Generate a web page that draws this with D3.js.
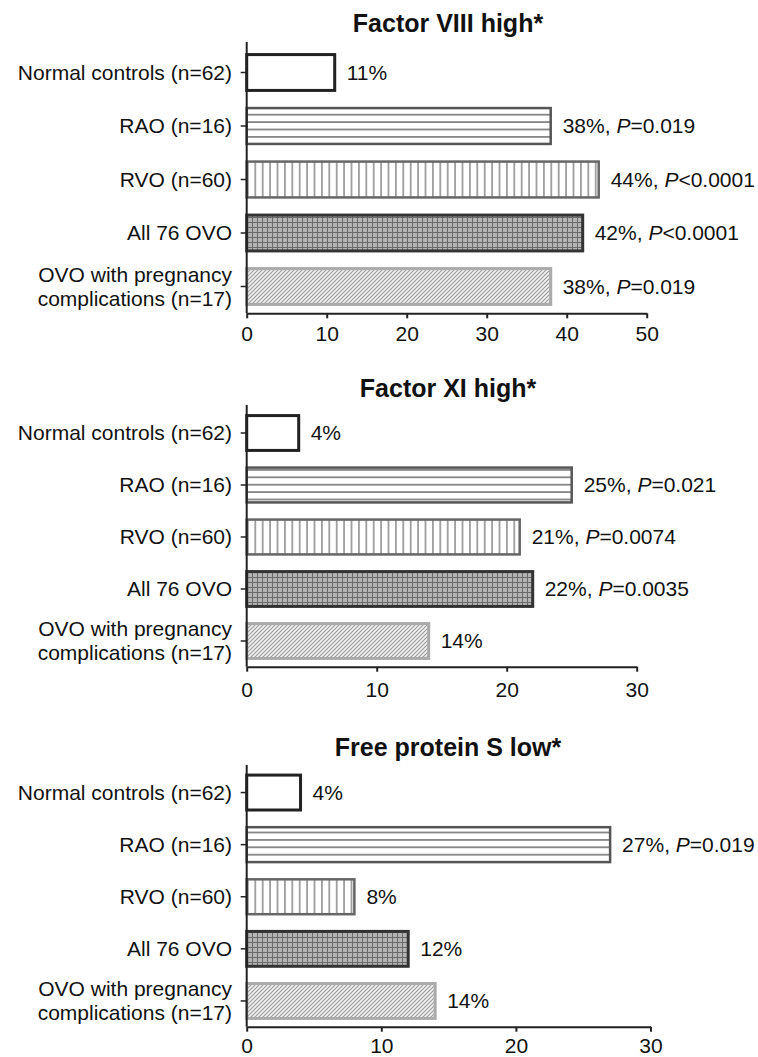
<!DOCTYPE html>
<html>
<head>
<meta charset="utf-8">
<script src="https://cdn.jsdelivr.net/npm/d3@7"></script>
<style>
  html, body { margin: 0; padding: 0; background: #fff; }
  svg { display: block; font-family: "Liberation Sans", Arial, sans-serif; }
</style>
</head>
<body>
<svg id="chart" width="758" height="1057"></svg>
<script>
// ---- data ----
const categories = ["Normal controls (n=62)", "RAO (n=16)", "RVO (n=60)", "All 76 OVO", "OVO with pregnancy complications (n=17)"];
const categoryLines = [["Normal controls (n=62)"], ["RAO (n=16)"], ["RVO (n=60)"], ["All 76 OVO"], ["OVO with pregnancy", "complications (n=17)"]];

const titles = ["Factor VIII high*", "Factor XI high*", "Free protein S low*"];
const factorVIII = [11, 38, 44, 42, 38];
const factorVIIIp = ["", "=0.019", "<0.0001", "<0.0001", "=0.019"];
const factorXI = [4, 25, 21, 22, 14];
const factorXIp = ["", "=0.021", "=0.0074", "=0.0035", ""];
const proteinS = [4, 27, 8, 12, 14];
const proteinSp = ["", "=0.019", "", "", ""];

const xMaxes = [50, 30, 30];
const xTicks = [[0, 10, 20, 30, 40, 50], [0, 10, 20, 30], [0, 10, 20, 30]];

// ---- layout ----
const svg = d3.select("#chart");
const defs = svg.append("defs");

function pat(id, w, h, bg, draw) {
  const p = defs.append("pattern").attr("id", id).attr("patternUnits", "userSpaceOnUse")
    .attr("width", w).attr("height", h);
  p.append("rect").attr("width", w).attr("height", h).attr("fill", bg);
  draw(p);
}
pat("hlines", 10, 7.4, "#fff", p => p.append("line").attr("x1", 0).attr("x2", 10).attr("y1", 3.7).attr("y2", 3.7).attr("stroke", "#555").attr("stroke-width", 1.3));
pat("vlines", 7.4, 10, "#fff", p => p.append("line").attr("x1", 3.7).attr("x2", 3.7).attr("y1", 0).attr("y2", 10).attr("stroke", "#777").attr("stroke-width", 1.3));
pat("grid", 5, 5, "#b4b4b4", p => {
  p.append("line").attr("x1", 2.5).attr("x2", 2.5).attr("y1", 0).attr("y2", 5).attr("stroke", "#6a6a6a").attr("stroke-width", 1);
  p.append("line").attr("x1", 0).attr("x2", 5).attr("y1", 2.5).attr("y2", 2.5).attr("stroke", "#6a6a6a").attr("stroke-width", 1);
});
pat("diag", 4, 4, "#f2f2f2", p => p.append("path").attr("d", "M-1,1 L1,-1 M0,4 L4,0 M3,5 L5,3").attr("stroke", "#999").attr("stroke-width", 1.1));

const fills = ["#fff", "url(#hlines)", "url(#vlines)", "url(#grid)", "url(#diag)"];
const strokes = ["#222", "#555", "#666", "#333", "#aaa"];
const strokeW = [3, 2.5, 2.5, 3, 3];

const panels = [
  { values: factorVIII, p: factorVIIIp, titleY: 32, yRange: [45.75, 313.25], axisTop: 42, axisY: 313.3, xRange: [246.7, 646.7], tickLabelY: 341.5 },
  { values: factorXI, p: factorXIp, titleY: 397, yRange: [407, 667], axisTop: 405, axisY: 666.7, xRange: [246.7, 636.7], tickLabelY: 697 },
  { values: proteinS, p: proteinSp, titleY: 756, yRange: [766.5, 1027], axisTop: 765, axisY: 1026.7, xRange: [246.7, 650.5], tickLabelY: 1053 }
];

panels.forEach((pn, i) => {
  const g = svg.append("g");
  const x = d3.scaleLinear().domain([0, xMaxes[i]]).range(pn.xRange);
  const y = d3.scaleBand().domain(categories).range(pn.yRange).paddingInner(0.33).paddingOuter(0.165);

  g.append("text").attr("x", 448).attr("y", pn.titleY).attr("text-anchor", "middle")
    .attr("font-size", 25).attr("font-weight", "bold").attr("fill", "#111").text(titles[i]);

  // bars
  g.selectAll("rect.bar").data(pn.values).join("rect").attr("class", "bar")
    .attr("x", x(0))
    .attr("y", (d, j) => y(categories[j]))
    .attr("width", d => x(d) - x(0))
    .attr("height", y.bandwidth())
    .attr("fill", (d, j) => fills[j])
    .attr("stroke", (d, j) => strokes[j])
    .attr("stroke-width", (d, j) => strokeW[j]);

  // value labels
  const vl = g.selectAll("text.val").data(pn.values).join("text").attr("class", "val")
    .attr("x", d => x(d) + 12)
    .attr("y", (d, j) => y(categories[j]) + y.bandwidth() / 2)
    .attr("dy", "0.35em").attr("font-size", 21).attr("fill", "#111");
  vl.each(function (d, j) {
    const t = d3.select(this);
    t.append("tspan").text(d + "%" + (pn.p[j] ? ", " : ""));
    if (pn.p[j]) {
      t.append("tspan").attr("font-style", "italic").text("P");
      t.append("tspan").text(pn.p[j]);
    }
  });

  // x axis
  const xa = g.append("g").attr("transform", `translate(0,${pn.axisY})`)
    .call(d3.axisBottom(x).tickValues(xTicks[i]).tickSize(5).tickSizeOuter(0).tickFormat(d3.format("d")));
  xa.select(".domain").attr("stroke", "#222").attr("stroke-width", 2);
  xa.selectAll(".tick line").attr("stroke", "#222").attr("stroke-width", 2);
  xa.selectAll(".tick text").attr("font-size", 21).attr("fill", "#111")
    .attr("font-family", "Liberation Sans, Arial, sans-serif").attr("y", pn.tickLabelY - pn.axisY).attr("dy", 0);

  // y axis
  const ya = g.append("g").attr("transform", `translate(${x(0)},0)`)
    .call(d3.axisLeft(y).tickSize(6).tickSizeOuter(0).tickFormat(""));
  ya.select(".domain").attr("stroke", "#222").attr("stroke-width", 2)
    .attr("d", `M0,${pn.axisTop}V${pn.axisY}`);
  ya.selectAll(".tick line").attr("stroke", "#222").attr("stroke-width", 1.5);

  // category labels
  g.selectAll("text.cat").data(categories).join("text").attr("class", "cat")
    .attr("x", 232).attr("text-anchor", "end").attr("font-size", 21).attr("fill", "#111")
    .attr("y", c => y(c) + y.bandwidth() / 2)
    .each(function (c, j) {
      const lines = categoryLines[j];
      const t = d3.select(this);
      lines.forEach((ln, k) => {
        t.append("tspan").attr("x", 232)
          .attr("dy", k === 0 ? (0.35 * 21 - (lines.length - 1) * 12) + "px" : "24px")
          .text(ln);
      });
    });
});
</script>
</body>
</html>
